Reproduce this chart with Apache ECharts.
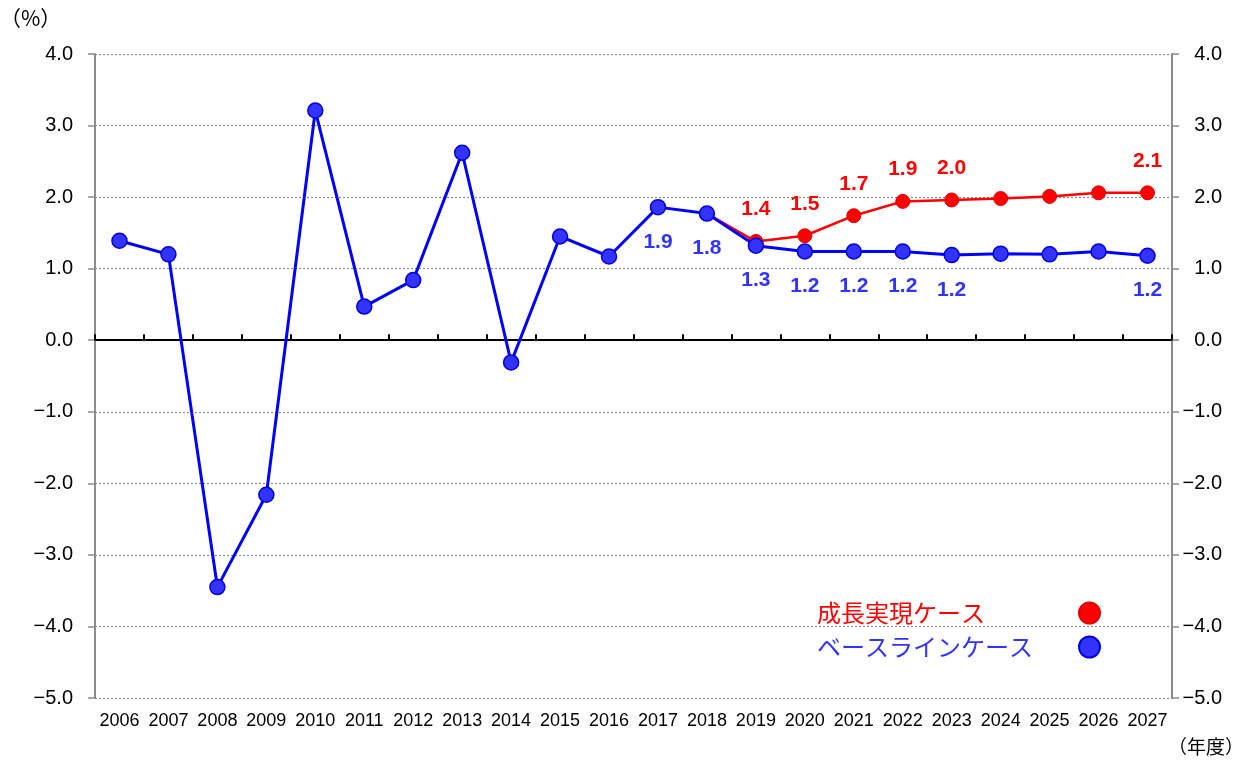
<!DOCTYPE html>
<html>
<head>
<meta charset="utf-8">
<script src="https://cdn.jsdelivr.net/npm/echarts@6/dist/echarts.min.js"></script>
<style>html,body{margin:0;padding:0;background:#fff;}#c{width:1245px;height:762px;}</style>
</head>
<body>
<div id="c"></div>
<script>
const years = ['2006','2007','2008','2009','2010','2011','2012','2013','2014','2015','2016','2017','2018','2019','2020','2021','2022','2023','2024','2025','2026','2027'];
const baseline = [1.39,1.20,-3.45,-2.16,3.21,0.47,0.84,2.62,-0.31,1.45,1.17,1.86,1.77,1.32,1.24,1.24,1.24,1.19,1.21,1.20,1.24,1.18];
const growth = [null,null,null,null,null,null,null,null,null,null,null,null,1.77,1.38,1.46,1.74,1.94,1.96,1.98,2.01,2.06,2.06];
const growthLabelYears = ['2019','2020','2021','2022','2023','2027'];
const baselineLabelYears = ['2017','2018','2019','2020','2021','2022','2023','2027'];
const yTicks = {min:-5, max:4, interval:1};
const seriesNames = ['成長実現ケース','ベースラインケース'];
const yUnit = '（%）';
const xUnit = '（年度）';

const fmt1 = v => (Math.round(v*10)/10).toFixed(1);
const axisFmt = v => v < 0 ? '\u2212' + Math.abs(v).toFixed(1) : v.toFixed(1);
const numFont = '"Liberation Sans", Arial, sans-serif';
const jpFont = '"Noto Sans CJK JP", sans-serif';

const chart = echarts.init(document.getElementById('c'), null, {renderer:'canvas'});

function yAxisDef(pos){
  return {
    type:'value', position:pos, min:yTicks.min, max:yTicks.max, interval:yTicks.interval,
    axisLine:{show:true, lineStyle:{color:'#8c8c8c', width:2}},
    axisTick:{show:true, inside:false, length:7, lineStyle:{color:'#8c8c8c', width:1.5}},
    splitLine:{show: pos==='left', lineStyle:{color:'#8c8c8c', type:[2,2], width:1.2}},
    axisLabel:{formatter:axisFmt, color:'#000', fontSize:20, fontFamily:numFont,
      margin: pos==='left' ? 22 : 50, align:'right'}
  };
}

const option = {
  animation:false,
  backgroundColor:'#fff',
  grid:{left:95, right:73, top:54, bottom:64, containLabel:false},
  xAxis:[
    {type:'category', data:years, position:'bottom', boundaryGap:true,
     axisLine:{show:false, onZero:false}, axisTick:{show:false},
     axisLabel:{color:'#000', fontSize:18, fontFamily:numFont, margin:14, interval:0},
     splitLine:{show:true, interval:(i)=> i===11, lineStyle:{color:'#aaaaaa', width:1.5}}},
    {type:'category', data:years, position:'bottom', boundaryGap:true,
     axisLine:{show:true, onZero:true, lineStyle:{color:'#000', width:2}},
     axisTick:{show:true, inside:true, length:6, interval:0, lineStyle:{color:'#000', width:2}},
     axisLabel:{show:false}, splitLine:{show:false}}
  ],
  yAxis:[yAxisDef('left'), yAxisDef('right')],
  legend:{
    orient:'vertical', left:812, top:596, itemGap:10, itemWidth:21, itemHeight:21,
    icon:'circle', align:'right', selectedMode:false,
    formatter: n => (n === seriesNames[0] ? '{r|' : '{b|') + n + '}',
    textStyle:{fontSize:24, fontFamily:jpFont, lineHeight:24,
      rich:{
        r:{width:257, align:'left', color:'#ff0000', fontSize:24, fontFamily:jpFont, lineHeight:24},
        b:{width:257, align:'left', color:'#3333ff', fontSize:24, fontFamily:jpFont, lineHeight:24}
      }},
    data:[seriesNames[0], seriesNames[1]]
  },
  graphic:[
    {type:'text', left:0, top:8, style:{text:yUnit, fontSize:21, fontFamily:jpFont, fill:'#000'}},
    {type:'text', left:1168, top:737, style:{text:xUnit, fontSize:19, fontFamily:jpFont, fill:'#000'}}
  ],
  series:[
    {name:seriesNames[0], type:'line', xAxisIndex:0, yAxisIndex:0, data:growth,
     symbol:'circle', symbolSize:14, showAllSymbol:true,
     lineStyle:{color:'#ff0000', width:2.5}, itemStyle:{color:'#ff0000', borderColor:'#e00000', borderWidth:1},
     label:{show:true, position:'top', distance:14, color:'#ff0000', fontSize:21, fontWeight:'bold', fontFamily:numFont,
       formatter:p => growthLabelYears.includes(p.name) ? fmt1(p.value) : ''},
     z:2},
    {name:seriesNames[1], type:'line', xAxisIndex:0, yAxisIndex:0, data:baseline,
     symbol:'circle', symbolSize:15, showAllSymbol:true,
     lineStyle:{color:'#0000ff', width:3}, itemStyle:{color:'#3333ff', borderColor:'#0000dd', borderWidth:1.5},
     label:{show:true, position:'bottom', distance:16, color:'#3333ff', fontSize:21, fontWeight:'bold', fontFamily:numFont,
       formatter:p => baselineLabelYears.includes(p.name) ? fmt1(p.value) : ''},
     z:3}
  ]
};
chart.setOption(option);
</script>
</body>
</html>
